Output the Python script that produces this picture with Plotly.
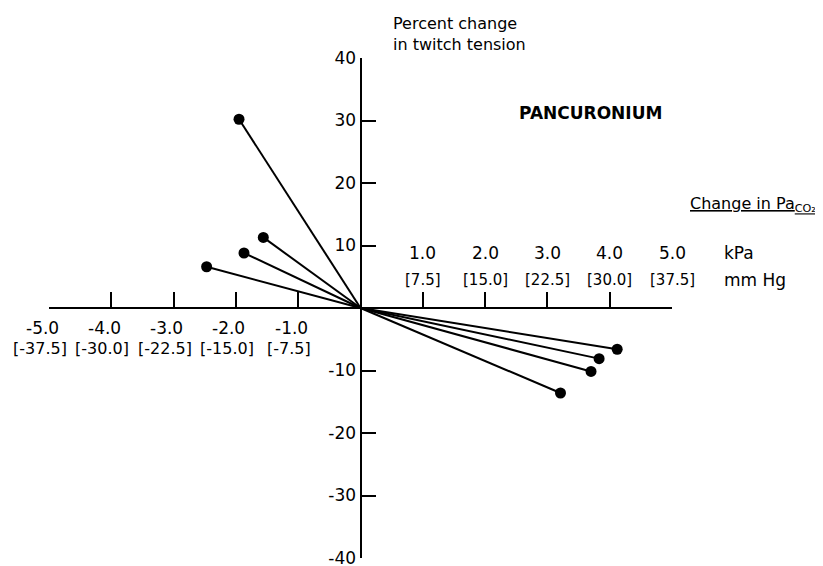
import plotly.graph_objects as go

# Data: change in PaCO2 (kPa) vs percent change in twitch tension
dx = [-1.95, -1.56, -1.87, -2.47, 4.12, 3.83, 3.70, 3.21]
dy = [30.2, 11.3, 8.8, 6.6, -6.6, -8.1, -10.15, -13.6]

xticks_neg = [-5, -4, -3, -2, -1]
xlab_neg = ["-5.0", "-4.0", "-3.0", "-2.0", "-1.0"]
xlab_neg_mm = ["[-37.5]", "[-30.0]", "[-22.5]", "[-15.0]", "[-7.5]"]
xticks_pos = [1, 2, 3, 4, 5]
xlab_pos = ["1.0", "2.0", "3.0", "4.0", "5.0"]
xlab_pos_mm = ["[7.5]", "[15.0]", "[22.5]", "[30.0]", "[37.5]"]
yticks = [-40, -30, -20, -10, 10, 20, 30, 40]

FONT = "DejaVu Sans, sans-serif"

fig = go.Figure()
for x, y in zip(dx, dy):
    fig.add_trace(go.Scatter(
        x=[0, x], y=[0, y], mode="lines",
        line=dict(color="black", width=2),
        showlegend=False, hoverinfo="skip"))
fig.add_trace(go.Scatter(
    x=dx, y=dy, mode="markers",
    marker=dict(color="black", size=11, opacity=1, line=dict(width=0)),
    showlegend=False, hoverinfo="skip"))

ann = []
for t, a, b in zip(xticks_neg, xlab_neg, xlab_neg_mm):
    ann.append(dict(x=t, y=0, yanchor="middle", yshift=-20, xshift=-7, text=a,
                    showarrow=False, font=dict(size=17)))
    ann.append(dict(x=t, y=0, yanchor="middle", yshift=-40, xshift=-9, text=b,
                    showarrow=False, font=dict(size=16)))
for t, a, b in zip(xticks_pos, xlab_pos, xlab_pos_mm):
    ann.append(dict(x=t, y=0, yanchor="middle", yshift=55, text=a,
                    showarrow=False, font=dict(size=17)))
    ann.append(dict(x=t, y=0, yanchor="middle", yshift=28, text=b,
                    showarrow=False, font=dict(size=15)))
ann.append(dict(x=722, y=253, xref="paper", yref="paper", text="kPa",
                showarrow=False, xanchor="left", font=dict(size=17)))
ann.append(dict(x=722, y=280, xref="paper", yref="paper", text="mm Hg",
                showarrow=False, xanchor="left", font=dict(size=17)))
ann.append(dict(x=818, y=204, xref="paper", yref="paper",
                text="<u>Change in Pa<sub>CO₂</sub></u>",
                showarrow=False, xanchor="right", font=dict(size=16)))
ann.append(dict(x=517, y=113, xref="paper", yref="paper", text="<b>PANCURONIUM</b>",
                showarrow=False, xanchor="left", font=dict(size=17)))
ann.append(dict(x=391, y=34, xref="paper", yref="paper",
                text="Percent change<br>in twitch tension", align="left",
                showarrow=False, xanchor="left", font=dict(size=16)))

# page body has an 8px margin: work in screen pixels, then offset
OFF = 8
W, H = 823 - OFF, 566 - OFF
L, T = 49 - OFF, 58 - OFF
R = W - (672 - OFF)
B = H - (558 - OFF)
pw, ph = W - L - R, H - T - B
for a in ann:
    if a.get("xref") == "paper":
        a["x"] = (a["x"] - OFF - L) / pw
        a["y"] = 1 - (a["y"] - OFF - T) / ph
        a["yanchor"] = "middle"

fig.update_layout(
    width=W, height=H,
    margin=dict(l=L, r=R, t=T, b=B, autoexpand=False),
    plot_bgcolor="white", paper_bgcolor="white",
    font=dict(family=FONT, color="black", size=16),
    annotations=ann,
    xaxis=dict(range=[-5, 5], anchor="free", position=0.5, showgrid=False,
               automargin=False,
               zeroline=False, showline=True, linecolor="black", linewidth=2,
               tickmode="array", tickvals=xticks_neg + xticks_pos,
               ticks="inside", ticklen=15, tickwidth=1.5, tickcolor="black",
               showticklabels=False),
    yaxis=dict(range=[-40, 40], anchor="free", position=0.5, showgrid=False,
               automargin=False,
               zeroline=False, showline=True, linecolor="black", linewidth=2,
               tickmode="array", tickvals=yticks,
               ticktext=[str(v) for v in yticks],
               ticks="inside", ticklen=14, tickwidth=1.5, tickcolor="black",
               ticklabeloverflow="allow",
               tickfont=dict(size=17)),
)

fig.write_html("out.html")
